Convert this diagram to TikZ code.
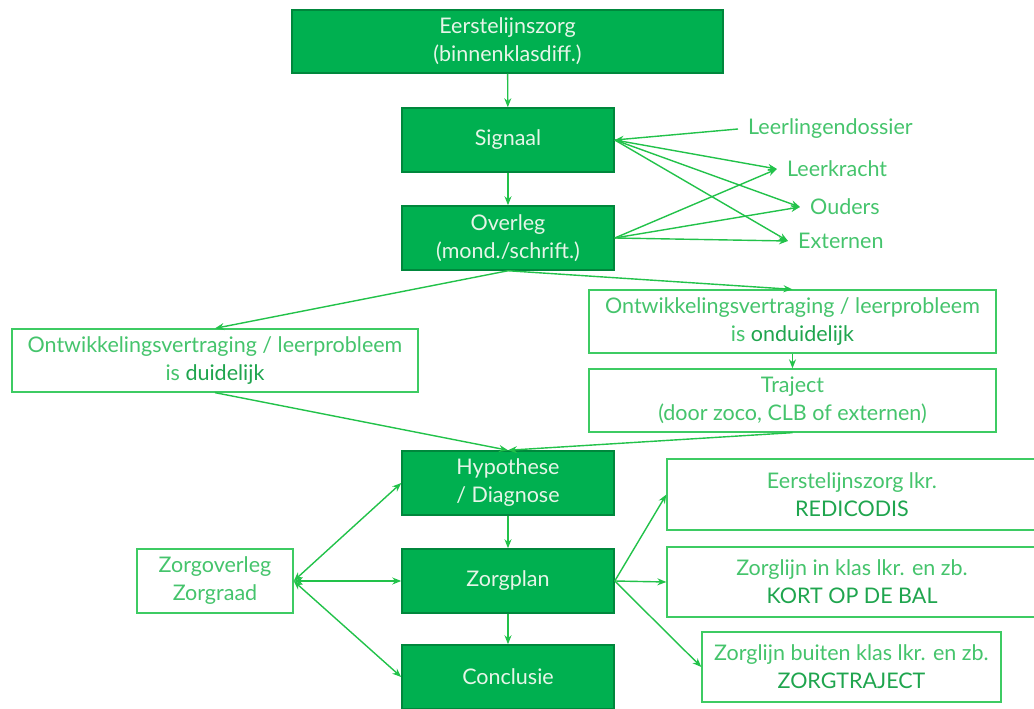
\documentclass[tikz,border=0pt]{standalone}
\usepackage{fontspec}
\setmainfont{Lato}
\usetikzlibrary{arrows.meta}
\definecolor{boxfill}{HTML}{00B050}
\definecolor{boxdraw}{HTML}{00873C}
\definecolor{boxtext}{HTML}{E6F5E8}
\definecolor{lgreen}{HTML}{3DCB63}
\definecolor{ltext}{HTML}{45C46C}
\definecolor{emtext}{HTML}{1FA54E}
\definecolor{arr}{HTML}{22C24A}
\tikzset{
  darkbox/.style={draw=boxdraw, line width=1.5pt, fill=boxfill, text=boxtext, align=center, inner sep=0pt, font=\fontsize{21.5}{28}\selectfont},
  lightbox/.style={draw=lgreen, line width=1.3pt, fill=white, text=ltext, align=center, inner sep=0pt, font=\fontsize{21.5}{28}\selectfont},
  lbl/.style={text=ltext, inner xsep=10pt, inner ysep=2pt, font=\fontsize{21.5}{24}\selectfont},
  conn/.style={draw=arr, line width=1.4pt, -{Stealth[length=9pt,width=7pt]}},
  dconn/.style={draw=arr, line width=1.4pt, {Stealth[length=9pt,width=7pt]}-{Stealth[length=9pt,width=7pt]}},
}
\begin{document}
\begin{tikzpicture}[x=1pt,y=-1pt]
\useasboundingbox (0,0) rectangle (1034,709);
% dark boxes
\node[darkbox, minimum width=431, minimum height=63] (eerst) at (507.5,41.5) {Eerstelijnszorg\\(binnenklasdiff.)};
\node[darkbox, minimum width=212, minimum height=64] (sign) at (508,140) {Signaal};
\node[darkbox, minimum width=212, minimum height=64] (overleg) at (508,238) {Overleg\\(mond./schrift.)};
\node[darkbox, minimum width=212, minimum height=64] (hyp) at (508,483) {Hypothese\\/ Diagnose};
\node[darkbox, minimum width=212, minimum height=64] (zplan) at (508,581) {Zorgplan};
\node[darkbox, minimum width=212, minimum height=64] (concl) at (508,677) {Conclusie};
% light boxes
\node[lightbox, minimum width=406, minimum height=63] (dui) at (215,360.5) {Ontwikkelingsvertraging / leerprobleem\\is {\color{emtext}duidelijk}};
\node[lightbox, minimum width=407, minimum height=63] (ondui) at (792.5,321.5) {Ontwikkelingsvertraging / leerprobleem\\is {\color{emtext}onduidelijk}};
\node[lightbox, minimum width=407, minimum height=63] (traj) at (792.5,400.5) {Traject\\(door zoco, CLB of externen)};
\node[lightbox, minimum width=156, minimum height=64] (zov) at (215,581) {Zorgoverleg\\Zorgraad};
\node[lightbox, minimum width=370, minimum height=71] (elkr) at (852,494.5) {Eerstelijnszorg lkr.\\{\color{emtext}REDICODIS}};
\node[lightbox, minimum width=370, minimum height=70] (zin) at (852,582) {Zorglijn in klas lkr. en zb.\\{\color{emtext}KORT OP DE BAL}};
\node[lightbox, minimum width=299, minimum height=70] (zbui) at (851.5,667) {Zorglijn buiten klas lkr. en zb.\\{\color{emtext}ZORGTRAJECT}};
% labels
\node[lbl, anchor=west] (dossier) at (738,129) {Leerlingendossier};
\node[lbl, anchor=west] (lkr) at (777,169) {Leerkracht};
\node[lbl, anchor=west] (ouders) at (800,207) {Ouders};
\node[lbl, anchor=west] (ext) at (788,241) {Externen};
% connectors
\draw[conn] (eerst) -- (sign);
\draw[conn] (sign) -- (overleg);
\draw[conn] (dossier.west) -- (sign.east);
\draw[conn] (sign.east) -- (lkr.west);
\draw[conn] (sign.east) -- (ouders.west);
\draw[conn] (sign.east) -- (ext.west);
\draw[conn] (overleg.east) -- (lkr.west);
\draw[conn] (overleg.east) -- (ouders.west);
\draw[conn] (overleg.east) -- (ext.west);
\draw[conn] (overleg.south) -- (dui.north);
\draw[conn] (overleg.south) -- (ondui.north);
\draw[conn] (ondui) -- (traj);
\draw[conn] (dui.south) -- (hyp.north);
\draw[conn] (traj.south) -- (hyp.north);
\draw[conn] (hyp) -- (zplan);
\draw[conn] (zplan) -- (concl);
\draw[dconn] (zov.east) -- (hyp.west);
\draw[dconn] (zov.east) -- (zplan.west);
\draw[dconn] (zov.east) -- (concl.west);
\draw[conn] (zplan.east) -- (elkr.west);
\draw[conn] (zplan.east) -- (zin.west);
\draw[conn] (zplan.east) -- (zbui.west);
\end{tikzpicture}
\end{document}
